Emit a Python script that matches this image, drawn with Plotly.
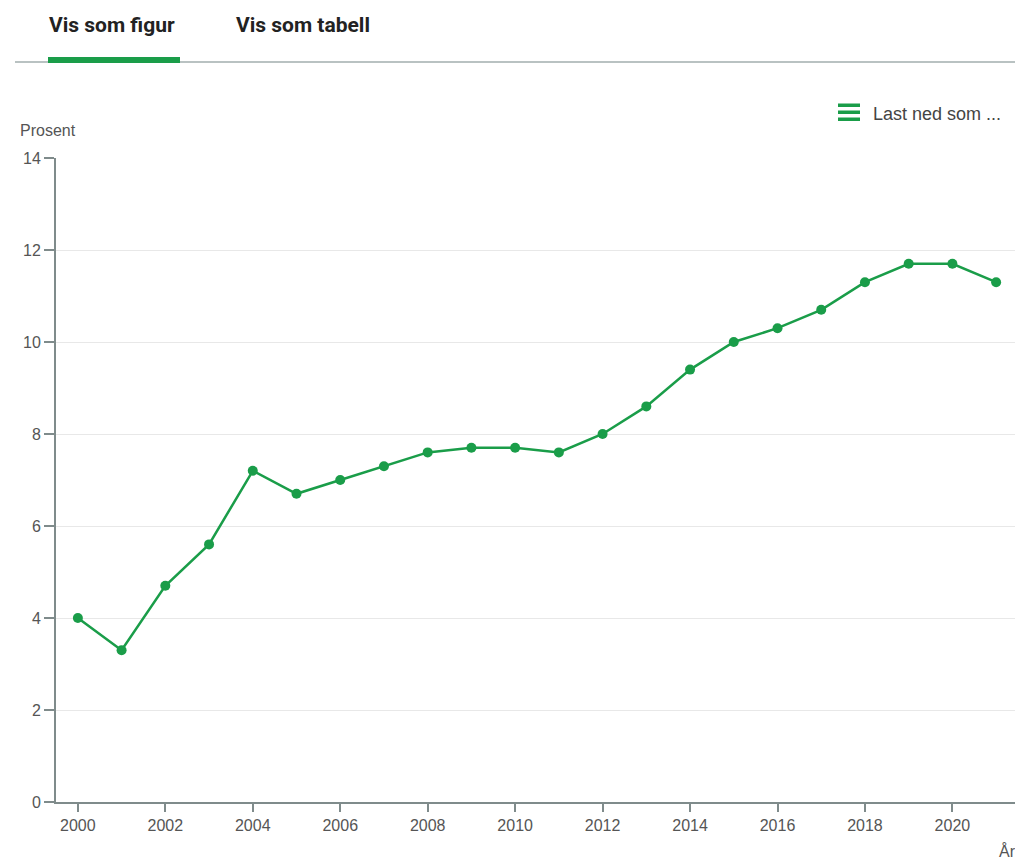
import plotly.graph_objects as go

years = list(range(2000, 2022))
values = [4.0, 3.3, 4.7, 5.6, 7.2, 6.7, 7.0, 7.3, 7.6, 7.7, 7.7, 7.6,
          8.0, 8.6, 9.4, 10.0, 10.3, 10.7, 11.3, 11.7, 11.7, 11.3]
x_ticks = list(range(2000, 2022, 2))
y_ticks = list(range(0, 15, 2))

GREEN = "#1a9d49"
OFF = 8  # page body margin
W, H = 1023 - OFF, 862 - OFF
L, R, T, B = 56 - OFF, 5, 158 - OFF, 60
plot_w = W - L - R
plot_h = H - T - B
AXIS_FONT = "Liberation Sans, Arial, sans-serif"


def fx(xs):
    return (xs - OFF - L) / plot_w


def fy(ys):
    return (H - B - (ys - OFF)) / plot_h


fig = go.Figure()
fig.add_trace(go.Scatter(
    x=years, y=values, mode="lines+markers",
    line=dict(color=GREEN, width=2.5),
    marker=dict(color=GREEN, size=10),
    hoverinfo="x+y", showlegend=False,
))

fig.update_layout(
    width=W, height=H,
    margin=dict(l=L, r=R, t=T, b=B),
    paper_bgcolor="white", plot_bgcolor="white",
    font=dict(family=AXIS_FONT, color="#444"),
    xaxis=dict(
        range=[1999.5, 2021.5], tickvals=x_ticks, showgrid=False,
        zeroline=False, showline=True, linecolor="#7f8b8b", linewidth=2,
        ticks="outside", ticklen=8, tickwidth=1.5, tickcolor="#7f8b8b",
        tickfont=dict(size=16, color="#555", family=AXIS_FONT),
    ),
    yaxis=dict(
        range=[0, 14], tickvals=y_ticks, showgrid=True, gridcolor="#e8e8e8",
        gridwidth=1, zeroline=False, showline=True, linecolor="#7f8b8b",
        linewidth=2, ticks="outside", ticklen=10, tickwidth=1.5,
        tickcolor="#7f8b8b", tickfont=dict(size=16, color="#555", family=AXIS_FONT),
    ),
)

shapes = [
    dict(type="line", xref="paper", yref="paper", x0=fx(15), x1=fx(1023), y0=fy(62), y1=fy(62),
         line=dict(color="#b9c2c2", width=2)),
    dict(type="rect", xref="paper", yref="paper", x0=fx(48), x1=fx(180), y0=fy(63), y1=fy(57),
         fillcolor=GREEN, line=dict(width=0)),
]
for yy in (105, 112, 119):
    shapes.append(dict(type="rect", xref="paper", yref="paper", x0=fx(838), x1=fx(860),
                       y0=fy(yy + 2), y1=fy(yy - 1.5), fillcolor=GREEN, line=dict(width=0)))
fig.update_layout(shapes=shapes)

annotations = [
    dict(text="<b>Vis som figur</b>", x=fx(47), y=fy(25), xref="paper", yref="paper",
         xanchor="left", yanchor="middle", showarrow=False,
         font=dict(size=21, color="#222", family="Roboto, Arial, sans-serif")),
    dict(text="<b>Vis som tabell</b>", x=fx(234), y=fy(25), xref="paper", yref="paper",
         xanchor="left", yanchor="middle", showarrow=False,
         font=dict(size=21, color="#222", family="Roboto, Arial, sans-serif")),
    dict(text="Last ned som ...", x=fx(871), y=fy(114), xref="paper", yref="paper",
         xanchor="left", yanchor="middle", showarrow=False,
         font=dict(size=18, color="#444", family=AXIS_FONT)),
    dict(text="Prosent", x=fx(18), y=fy(130), xref="paper", yref="paper",
         xanchor="left", yanchor="middle", showarrow=False,
         font=dict(size=16, color="#555", family=AXIS_FONT)),
    dict(text="År", x=fx(1018), y=fy(862), xref="paper", yref="paper",
         xanchor="right", yanchor="bottom", showarrow=False,
         font=dict(size=16, color="#555", family=AXIS_FONT)),
]
fig.update_layout(annotations=annotations)

fig.write_html("out.html")
